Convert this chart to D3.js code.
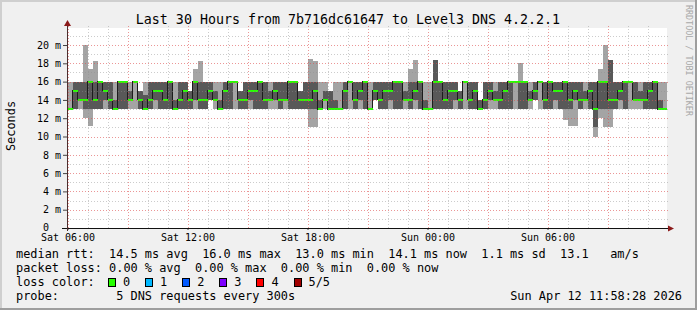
<!DOCTYPE html>
<html>
<head>
<meta charset="utf-8">
<script src="https://cdn.jsdelivr.net/npm/d3@7"></script>
<style>
html, body { margin: 0; padding: 0; background: #f0f0f0; }
svg { display: block; font-family: "DejaVu Sans Mono", monospace; }
.pre { white-space: pre; }
</style>
</head>
<body>
<svg id="chart" width="697" height="310"></svg>
<script>
// smokeping style graph, 5 pings per step, values in ms
var stepStart = new Date(2026, 3, 11, 6, 0, 0);
var stepMinutes = 15;

var pingMin = [13,13,13,12,11.1,13,13,13,13,13, 13,13,13,13,13,13,13,13,13,13,
  13,13,13,13,13,13,13,13,14,13, 13,13,13,13,13,13,13,13,13,13,
  13,13,13,13,13,13,13,13,11,11, 13,13,13,13,13,13,13,13,13,13,
  13,14,13,13,13,13,13,13,13,13, 13,13,13,13,13,13,13,13,13,13,
  13,13,13,13,13,13,13,13,13,13, 13,13,13,14,13,13,13,13,13,11.8,
  11.1,11.1,13,13,13,10,12,11,11,13, 13,13,13,13,13,13,13,13,13,13];
var ping2 = [13,13,14,13,13,13,13,14,13,13, 13,13,14,16,13,13,13,14,13,13,
  13,13,13,13,13,14,13,13,14,14, 13,13,13,16,13,13,14,13,13,13,
  14,14,13,14,13,13,13,13,13,13, 13,14,13,13,13,13,16,13,14,13,
  13,14,13,13,14,13,13,14,13,14, 13,13,13,13,13,13,13,14,13,16,
  13,13,13,13,14,14,13,13,13,16, 13,13,14,14,16,13,13,14,13,13,
  13,14,13,14,13,11,13,13,13,13, 14,13,16,14,14,13,13,13,13,13];
var pingMed = [13,15,14,14,16,14,16,15,14,13, 16,16,14,16,14,13,14,15,15,14,
  16,13,14,15,14,16,14,14,15,14, 13,15,16,16,14,14,15,15,16,14,
  14,15,14,14,16,16,14,14,14,15, 13,14,13,13,13,15,16,14,15,16,
  13,15,14,15,15,16,16,14,14,15, 16,13,13,16,16,14,15,15,14,16,
  14,15,13,14,15,14,14,15,16,16, 16,16,14,15,16,14,16,15,15,16,
  14,15,14,14,15,13,16,16,14,14, 15,16,16,14,14,14,15,16,13,13];
var ping4 = [13,16,16,16,16,16,16,16,16,14, 16,16,15,16,15,14.5,16,16,16,16,
  16,14,16,16,15,16,16,16,16,15, 14,16,16,16,15,16,16,16,16,16,
  15,16,16,16,16,16,15,16,16,16, 14,15,15,14,13,16,16,16,16,16,
  13,16,16,16,16,16,16,15,16,16, 16,14,13,18.4,16,16,16,16,15,16,
  16,16,14,16,16,15,16,16,16,16, 16,16,15,16,16,16,16,16,16,16,
  16,16,16,15,16,16,16,16,18.4,16, 16,16,16,16,15,16,16,16,14,13];
var pingMax = [16,16,16,20,17.4,18.3,16,16,16,16, 16,16,16,16,15,16,16,16,16,16,
  16,16,16,16,15,17.4,18.3,16,16,16, 16,16,16,16,15,16,16,16,16,16,
  16,16,16,16,16,16,15,16,18.5,18.3, 16,16,15,16,16,16,16,16,16,16,
  16,16,16,16,16,16,16,16,17.4,18.4, 16,16,16,18.4,16,16,16,16,15,16,
  16,16,14,16,16,16,16,16,16,16, 18,16,16,16,16,16,16,16,16,16,
  16,16,16,16,16,16,17.4,20,18.4,16, 16,16,16,16,16,16,16,16,16,16];

var yTicks = [0,2,4,6,8,10,12,14,16,18,20];
var xLabelTimes = [new Date(2026,3,11,6), new Date(2026,3,11,12), new Date(2026,3,11,18),
  new Date(2026,3,12,0), new Date(2026,3,12,6)];

var lossLabels = ["0", "1", "2", "3", "4", "5/5"];
var lossColors = ["#26ff00", "#00b8ff", "#0059ff", "#7e00ff", "#ff0000", "#a10000"];

var titleText = "Last 30 Hours from 7b716dc61647 to Level3 DNS 4.2.2.1";
var statLines = [
  "median rtt:  14.5 ms avg  16.0 ms max  13.0 ms min  14.1 ms now  1.1 ms sd  13.1   am/s",
  "packet loss: 0.00 % avg  0.00 % max  0.00 % min  0.00 % now"
];
var probeText = "probe:        5 DNS requests every 300s";
var dateText = "Sun Apr 12 11:58:28 2026";

var W = 697, H = 310;
var plot = {left: 67, top: 28, right: 667, bottom: 228};

var svg = d3.select("#chart");

var x = d3.scaleTime()
  .domain([new Date(2026,3,11,5,58,28), new Date(2026,3,12,11,58,28)])
  .range([plot.left, plot.right]);
var y = d3.scaleLinear()
  .domain([0, 21.86])
  .range([plot.bottom, plot.top]);

// frame
svg.append("rect").attr("width", W).attr("height", H).attr("fill", "#f0f0f0");
svg.append("rect").attr("x", 0).attr("y", 0).attr("width", W).attr("height", 2).attr("fill", "#cfcfcf");
svg.append("rect").attr("x", 0).attr("y", 0).attr("width", 2).attr("height", H).attr("fill", "#cfcfcf");
svg.append("rect").attr("x", 0).attr("y", H - 2).attr("width", W).attr("height", 2).attr("fill", "#9e9e9e");
svg.append("rect").attr("x", W - 2).attr("y", 0).attr("width", 2).attr("height", H).attr("fill", "#9e9e9e");

// canvas
svg.append("rect")
  .attr("x", plot.left).attr("y", plot.top)
  .attr("width", plot.right - plot.left).attr("height", plot.bottom - plot.top)
  .attr("fill", "#ffffff");

svg.append("clipPath").attr("id", "clip")
  .append("rect")
  .attr("x", plot.left).attr("y", plot.top)
  .attr("width", plot.right - plot.left).attr("height", plot.bottom - plot.top);

var rows = pingMed.map(function(m, i) {
  return {t: d3.timeMinute.offset(stepStart, i * stepMinutes),
          p1: pingMin[i], p2: ping2[i], med: m, p4: ping4[i], p5: pingMax[i]};
});
var lastRow = rows[rows.length - 1];
var rowsEnd = rows.concat([Object.assign({}, lastRow, {t: d3.timeMinute.offset(lastRow.t, stepMinutes)})]);

var g = svg.append("g").attr("clip-path", "url(#clip)");

var outer = d3.area().curve(d3.curveStepAfter)
  .x(function(d) { return x(d.t); })
  .y0(function(d) { return y(d.p1); })
  .y1(function(d) { return y(d.p5); });
var inner = d3.area().curve(d3.curveStepAfter)
  .x(function(d) { return x(d.t); })
  .y0(function(d) { return y(d.p2); })
  .y1(function(d) { return y(d.p4); });

g.append("path").datum(rowsEnd).attr("d", outer)
  .attr("fill", "#a4a4a4").attr("shape-rendering", "crispEdges");
g.append("path").datum(rowsEnd).attr("d", inner)
  .attr("fill", "#585858").attr("shape-rendering", "crispEdges");

var medLine = d3.line().curve(d3.curveStepAfter)
  .x(function(d) { return x(d.t); })
  .y(function(d) { return y(d.med); });
g.append("path").datum(rowsEnd).attr("d", medLine)
  .attr("fill", "none").attr("stroke", "#1c1c1c").attr("stroke-width", 1)
  .attr("shape-rendering", "crispEdges");

g.selectAll(".med")
  .data(rows)
  .enter().append("rect")
    .attr("class", "med")
    .attr("x", function(d) { return x(d.t); })
    .attr("width", function(d) { return x(d3.timeMinute.offset(d.t, stepMinutes)) - x(d.t); })
    .attr("y", function(d) { return y(d.med) - 1; })
    .attr("height", 2)
    .attr("fill", lossColors[0])
    .attr("shape-rendering", "crispEdges");

// grid, drawn over the graph like rrdtool
var grid = svg.append("g").attr("shape-rendering", "crispEdges");
var hours = d3.timeHour.range(x.domain()[0], x.domain()[1]);
grid.selectAll(".vmin")
  .data(hours.filter(function(h) { return h.getHours() % 3 !== 0; }))
  .enter().append("line")
    .attr("x1", function(d) { return Math.round(x(d)) + 0.5; })
    .attr("x2", function(d) { return Math.round(x(d)) + 0.5; })
    .attr("y1", plot.top - 2).attr("y2", plot.bottom)
    .attr("stroke", "rgba(143,143,143,0.45)").attr("stroke-dasharray", "1,2");
grid.selectAll(".vmaj")
  .data(hours.filter(function(h) { return h.getHours() % 3 === 0; }))
  .enter().append("line")
    .attr("x1", function(d) { return Math.round(x(d)) + 0.5; })
    .attr("x2", function(d) { return Math.round(x(d)) + 0.5; })
    .attr("y1", plot.top - 2).attr("y2", plot.bottom)
    .attr("stroke", "rgba(222,80,80,0.6)").attr("stroke-dasharray", "1,2");

var hMinor = d3.range(1, 22, 2);
grid.selectAll(".hmin")
  .data(hMinor)
  .enter().append("line")
    .attr("x1", plot.left).attr("x2", plot.right + 2)
    .attr("y1", function(d) { return Math.round(y(d)) + 0.5; })
    .attr("y2", function(d) { return Math.round(y(d)) + 0.5; })
    .attr("stroke", "rgba(143,143,143,0.45)").attr("stroke-dasharray", "1,2");
grid.selectAll(".hmaj")
  .data(yTicks.slice(1))
  .enter().append("line")
    .attr("x1", plot.left).attr("x2", plot.right + 2)
    .attr("y1", function(d) { return Math.round(y(d)) + 0.5; })
    .attr("y2", function(d) { return Math.round(y(d)) + 0.5; })
    .attr("stroke", "rgba(222,80,80,0.6)").attr("stroke-dasharray", "1,2");

// axes
var yAxis = d3.axisLeft(y)
  .tickValues(yTicks)
  .tickSize(4)
  .tickPadding(2)
  .tickFormat(function(d) { return d === 0 ? "0  " : d + " m"; });
var yg = svg.append("g").attr("transform", "translate(" + plot.left + ",0)").call(yAxis);
yg.select(".domain").remove();
yg.selectAll("text").attr("class", "pre").attr("font-size", 10)
  .attr("font-family", "DejaVu Sans Mono, monospace").attr("fill", "#000");
yg.selectAll(".tick").filter(function(d) { return d === 0; }).select("text").attr("dy", "0.28em");
yg.selectAll("line").attr("stroke", "#444");

var xAxis = d3.axisBottom(x)
  .tickValues(xLabelTimes)
  .tickSize(2)
  .tickPadding(4)
  .tickFormat(d3.timeFormat("%a %H:%M"));
var xg = svg.append("g").attr("transform", "translate(0," + plot.bottom + ")").call(xAxis);
xg.select(".domain").remove();
xg.selectAll("text").attr("font-size", 10)
  .attr("font-family", "DejaVu Sans Mono, monospace").attr("fill", "#000");
xg.selectAll("line").attr("stroke", "#444");

svg.append("line")
  .attr("x1", plot.left - 5).attr("x2", plot.right + 2)
  .attr("y1", plot.bottom + 0.5).attr("y2", plot.bottom + 0.5)
  .attr("stroke", "#111").attr("shape-rendering", "crispEdges");
svg.append("line")
  .attr("x1", plot.left + 0.5).attr("x2", plot.left + 0.5)
  .attr("y1", plot.bottom + 3).attr("y2", plot.top - 3)
  .attr("stroke", "#4a2e2e").attr("shape-rendering", "crispEdges");
svg.append("path")
  .attr("d", "M" + (plot.right + 1) + "," + (plot.bottom - 2.5) + "L" + (plot.right + 7) + "," + (plot.bottom + 0.5) +
             "L" + (plot.right + 1) + "," + (plot.bottom + 3.5) + "Z")
  .attr("fill", "#8b1a1a");
svg.append("path")
  .attr("d", "M" + (plot.left - 3) + "," + (plot.top - 2) + "L" + (plot.left + 0.5) + "," + (plot.top - 8) +
             "L" + (plot.left + 4) + "," + (plot.top - 2) + "Z")
  .attr("fill", "#8b1a1a");

// texts
svg.append("text")
  .attr("x", 348).attr("y", 23.5)
  .attr("text-anchor", "middle")
  .attr("font-size", 13.3)
  .text(titleText);

svg.append("text")
  .attr("transform", "translate(15,126) rotate(-90)")
  .attr("text-anchor", "middle")
  .attr("font-size", 11.9)
  .text("Seconds");

svg.append("text")
  .attr("transform", "translate(686,5) rotate(90)")
  .attr("font-size", 8.4)
  .attr("fill", "#a8a8a8")
  .text("RRDTOOL / TOBI OETIKER");

var legendX = 16, lineH = 14, firstBase = 257.5;
svg.selectAll(".stat")
  .data(statLines)
  .enter().append("text")
    .attr("class", "pre")
    .attr("x", legendX)
    .attr("y", function(d, i) { return firstBase + i * lineH; })
    .attr("font-size", 11.9)
    .text(function(d) { return d; });

svg.append("text")
  .attr("class", "pre")
  .attr("x", legendX).attr("y", firstBase + 2 * lineH)
  .attr("font-size", 11.9)
  .text("loss color:");

var lossItem = svg.selectAll(".loss")
  .data(lossLabels)
  .enter().append("g")
    .attr("transform", function(d, i) { return "translate(" + (108 + i * 37.1) + "," + (firstBase + 2 * lineH) + ")"; });
lossItem.append("rect")
  .attr("x", 0.5).attr("y", -7.5)
  .attr("width", 7).attr("height", 8)
  .attr("fill", function(d, i) { return lossColors[i]; })
  .attr("stroke", "#000").attr("stroke-width", 1)
  .attr("shape-rendering", "crispEdges");
lossItem.append("text")
  .attr("x", 15)
  .attr("font-size", 11.9)
  .text(function(d) { return d; });

svg.append("text")
  .attr("class", "pre")
  .attr("x", legendX).attr("y", firstBase + 3 * lineH)
  .attr("font-size", 11.9)
  .text(probeText);
svg.append("text")
  .attr("x", 682).attr("y", firstBase + 3 * lineH)
  .attr("text-anchor", "end")
  .attr("font-size", 11.9)
  .text(dateText);
</script>
</body>
</html>
